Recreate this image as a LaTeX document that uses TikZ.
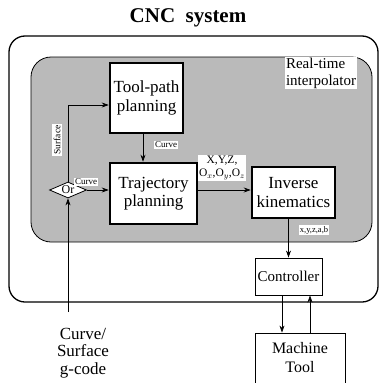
\documentclass[tikz,border=0pt]{standalone}
\usepackage{fontspec}
\setmainfont{Liberation Serif}
\usetikzlibrary{shapes.geometric,arrows.meta}
\begin{document}
\begin{tikzpicture}[x=1pt,y=-1pt,
  block/.style={draw,fill=white,line width=2.6pt,align=center,inner sep=0pt,
    font=\fontsize{17}{18.5}\selectfont},
  thinblock/.style={block,line width=0.9pt},
  tag/.style={fill=white,inner sep=1.2pt,align=center,font=\fontsize{9}{10}\selectfont},
  flow/.style={-{Stealth[length=7pt,width=5pt]},line width=0.7pt}]
  \useasboundingbox (0,0) rectangle (379,383);
  \node[font=\bfseries\fontsize{21}{24}\selectfont] (title) at (188,18) {CNC\ \ system};
  \draw[line width=1.3pt,rounded corners=16pt] (9,36) rectangle (378,302);
  \draw[line width=0.8pt,fill=black!27,rounded corners=20pt] (31,57) rectangle (372,242);
  \node[tag,align=left,inner sep=1pt,font=\fontsize{15}{17}\selectfont] (rti) at (321,73)
    {Real-time\\interpolator};
  \node[block,minimum width=73,minimum height=70] (tool) at (146.5,98) {Tool-path\\planning};
  \node[block,minimum width=87,minimum height=61] (traj) at (153.5,193.5) {Trajectory\\planning};
  \node[block,minimum width=83,minimum height=51] (inv) at (293.5,192.5) {Inverse\\kinematics};
  \node[thinblock,minimum width=67,minimum height=37,font=\fontsize{15}{17}\selectfont] (ctrl)
    at (288.5,276.5) {Controller};
  \node[thinblock,minimum width=90,minimum height=50,font=\fontsize{16}{19}\selectfont] (mt)
    at (300,358) {Machine\\Tool};
  \node[diamond,draw,fill=white,line width=0.8pt,aspect=2.3,inner sep=0pt,
    minimum width=37,minimum height=16,font=\fontsize{12}{12}\selectfont] (or) at (68,190) {Or};
  \coordinate (gin) at (68,312);
  \node[align=center,font=\fontsize{17}{17.5}\selectfont] (gcode) at (83,353)
    {Curve/\\Surface\\g-code};
  % connectors
  \draw[flow] (gin) -- (or.south);
  \draw[flow] (or.north) |- ([yshift=-7pt]tool.west);
  \draw[flow] (or.east) -- (or.east -| traj.west);
  \draw[flow] ([xshift=-3.5pt]tool.south) -- ([xshift=-3.5pt]tool.south |- traj.north);
  \draw[flow] (traj.east |- or.east) -- (inv.west |- or.east);
  \draw[flow] (ctrl.north |- inv.south) -- (ctrl.north);
  \draw[flow] ([xshift=-6.5pt]ctrl.south) -- ([xshift=-6.5pt]ctrl.south |- mt.north);
  \draw[flow] ([xshift=21.5pt]ctrl.south |- mt.north) -- ([xshift=21.5pt]ctrl.south);
  % labels
  \node[tag,rotate=90,font=\fontsize{9.5}{10}\selectfont] (surf) at (57,140) {Surface};
  \node[tag] (crv1) at (86,182) {Curve};
  \node[tag] (crv2) at (166,145) {Curve};
  \node[tag,font=\fontsize{11.5}{13}\selectfont] (xyz) at (222,168)
    {X,Y,Z,\\O$_x$,O$_y$,O$_z$};
  \node[tag,font=\fontsize{8.5}{10}\selectfont] (xyzab) at (314,230) {x,y,z,a,b};
\end{tikzpicture}
\end{document}
